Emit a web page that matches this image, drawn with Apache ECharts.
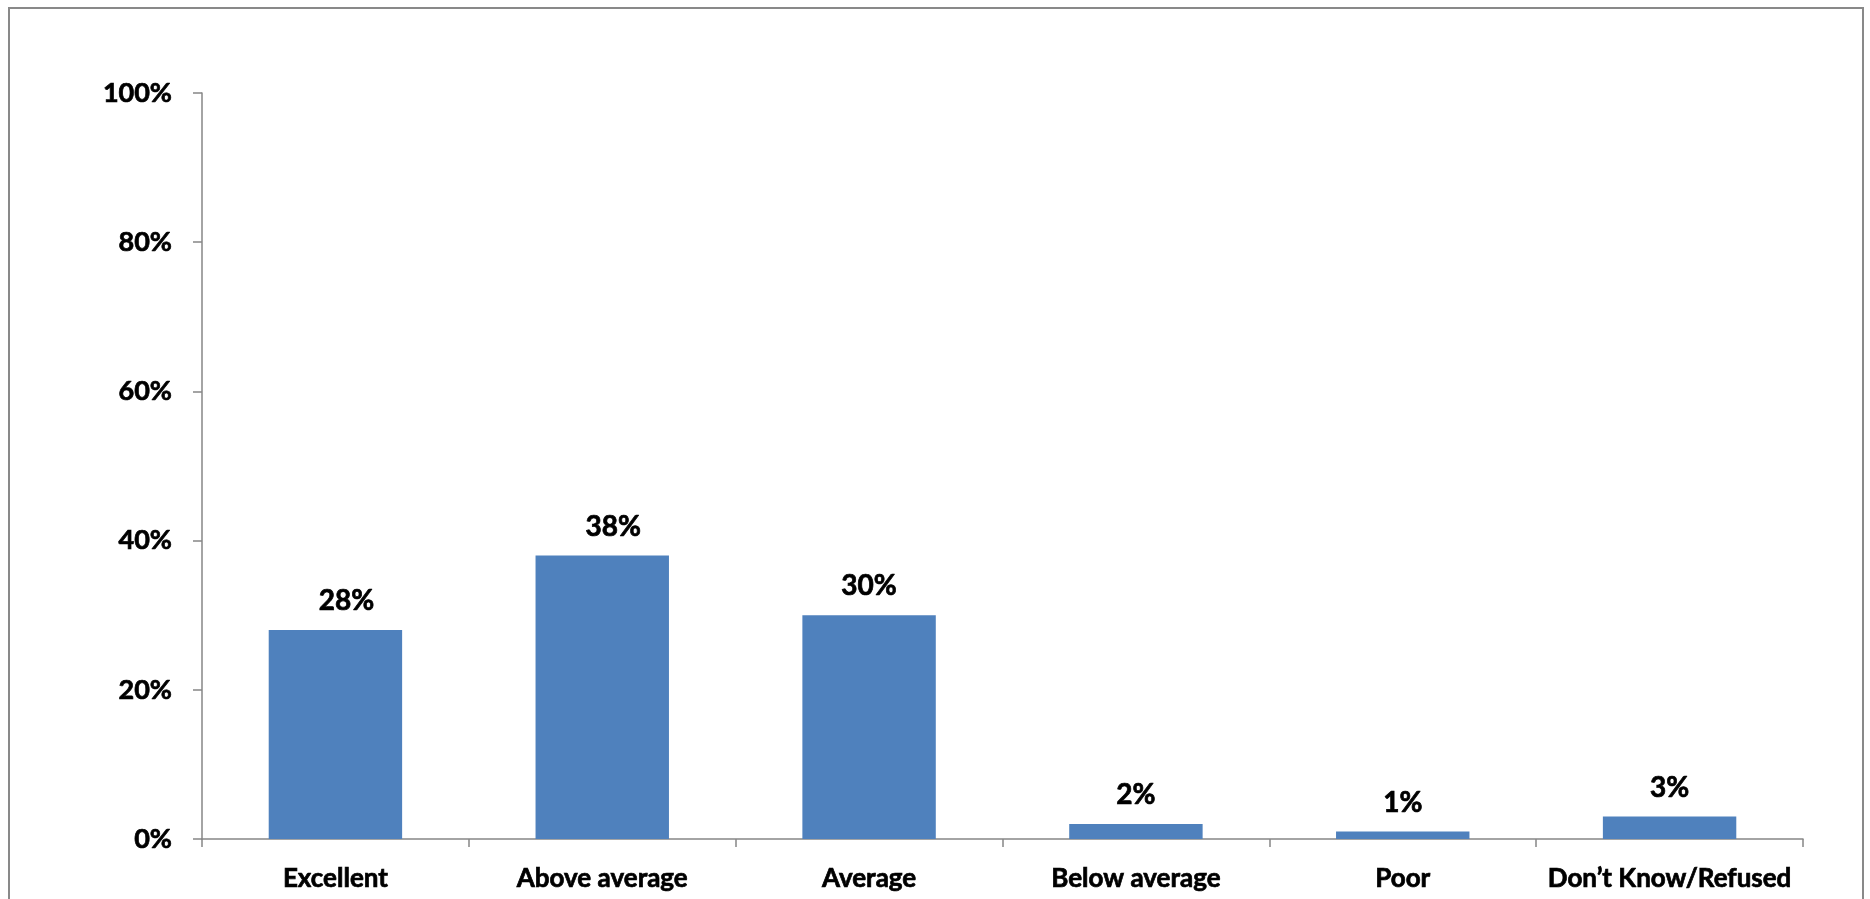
<!DOCTYPE html>
<html>
<head>
<meta charset="utf-8">
<script src="https://cdn.jsdelivr.net/npm/echarts@6/dist/echarts.min.js"></script>
<style>
html,body{margin:0;padding:0;background:#fff;}
#chart{width:1870px;height:899px;}
</style>
</head>
<body>
<div id="chart"></div>
<script>
const categories = ['Excellent', 'Above average', 'Average', 'Below average', 'Poor', 'Don\u2019t Know/Refused'];
const values = [28, 38, 30, 2, 1, 3];
const yTicks = [0, 20, 40, 60, 80, 100];

const chart = echarts.init(document.getElementById('chart'));
const font = 'Lato, "Open Sans", sans-serif';
const thick = {textBorderColor: '#000', textBorderWidth: 0.7};
// the first two data labels sit slightly right of their bars in the reference
const seriesData = values.map((v, i) => i < 2 ? {value: v, label: {offset: [11, 0]}} : v);
chart.setOption({
  animation: false,
  backgroundColor: '#fff',
  graphic: [{
    type: 'rect',
    shape: {x: 9, y: 8, width: 1854, height: 1000},
    style: {fill: 'none', stroke: '#898989', lineWidth: 2},
    silent: true
  }],
  grid: {left: 202, right: 67, top: 93, bottom: 60, containLabel: false},
  xAxis: {
    type: 'category',
    data: categories,
    axisLine: {lineStyle: {color: '#868686', width: 1.5}},
    axisTick: {show: true, length: 8, lineStyle: {color: '#868686', width: 1.5}},
    axisLabel: Object.assign({color: '#000', fontFamily: font, fontWeight: 'bold', fontSize: 26, margin: 27, interval: 0}, thick)
  },
  yAxis: {
    type: 'value',
    min: yTicks[0],
    max: yTicks[yTicks.length - 1],
    interval: 20,
    splitLine: {show: false},
    axisLine: {show: true, lineStyle: {color: '#868686', width: 1.5}},
    axisTick: {show: true, length: 9, lineStyle: {color: '#868686', width: 1.5}},
    axisLabel: Object.assign({color: '#000', fontFamily: font, fontWeight: 'bold', fontSize: 27, margin: 30, formatter: v => v + '%'}, thick)
  },
  series: [{
    type: 'bar',
    data: seriesData,
    barCategoryGap: '50%',
    itemStyle: {color: '#4F81BD'},
    label: Object.assign({show: true, position: 'top', distance: 15, color: '#000', fontFamily: font, fontWeight: 'bold', fontSize: 28, formatter: p => p.value + '%'}, thick)
  }]
});
</script>
</body>
</html>
